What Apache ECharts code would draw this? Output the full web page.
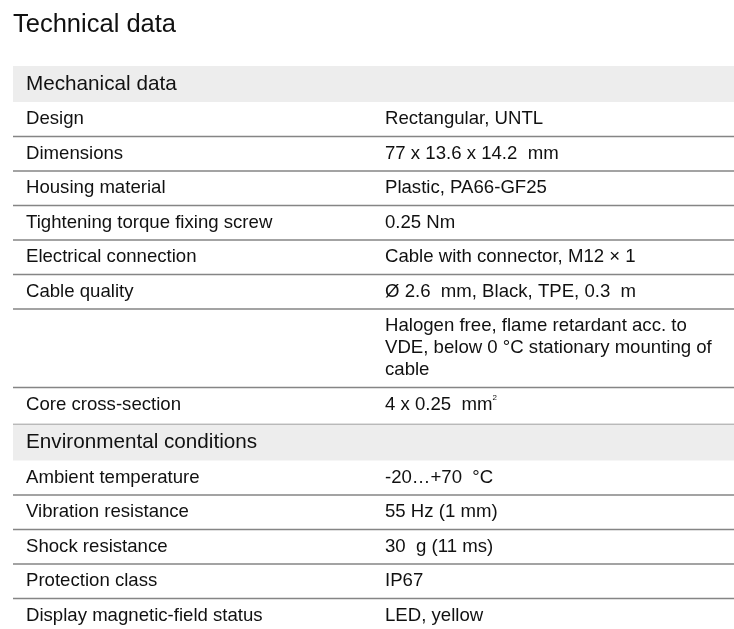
<!DOCTYPE html>
<html><head><meta charset="utf-8">
<script src="https://cdn.jsdelivr.net/npm/echarts@6/dist/echarts.min.js"></script>
<style>html,body{margin:0;padding:0;background:#fff}#c{width:734px;height:629px}</style>
</head><body><div id="c"></div>
<script>
var title = 'Technical data';
var sectionTitles = ['Mechanical data', 'Environmental conditions'];
var mechLabels = ['Design', 'Dimensions', 'Housing material', 'Tightening torque fixing screw',
  'Electrical connection', 'Cable quality', '', 'Core cross-section'];
var mechValues = ['Rectangular, UNTL', '77 x 13.6 x 14.2  mm', 'Plastic, PA66-GF25', '0.25 Nm',
  'Cable with connector, M12 × 1', 'Ø 2.6  mm, Black, TPE, 0.3  m',
  'Halogen free, flame retardant acc. to\nVDE, below 0 °C stationary mounting of\ncable',
  '4 x 0.25  mm{sup|2}'];
var envLabels = ['Ambient temperature', 'Vibration resistance', 'Shock resistance',
  'Protection class', 'Display magnetic-field status'];
var envValues = ['-20…+70  °C', '55 Hz (1 mm)', '30  g (11 ms)', 'IP67', 'LED, yellow'];

var FONT = '"Liberation Sans", Arial, sans-serif';
var LEFT = 13, RIGHT = 734, COL1 = 26, COL2 = 385;
var ROW_H = 34.5, LINE_H = 22, HEAD_H = 36;
var BODY = '18.6px ' + FONT;
var elements = [];
elements.push({type: 'text', x: LEFT, y: 25,
  style: {text: title, font: '25.5px ' + FONT, fill: '#111', verticalAlign: 'middle'}});

var y = 66;
function section(name, labels, values, first) {
  elements.push({type: 'rect', shape: {x: LEFT, y: y, width: RIGHT - LEFT, height: HEAD_H},
    style: {fill: '#ededed'}});
  elements.push({type: 'text', x: COL1, y: y + HEAD_H / 2,
    style: {text: name, font: '20.7px ' + FONT, fill: '#111', verticalAlign: 'middle'}});
  y += HEAD_H;
  for (var i = 0; i < labels.length; i++) {
    var v = values[i];
    var nLines = v.split('\n').length;
    var h = ROW_H + (nLines - 1) * LINE_H + (v.indexOf('{sup|') >= 0 ? 2.5 : 0);
    elements.push({type: 'text', x: COL1, y: y + 6,
      style: {text: labels[i], font: BODY, fill: '#111', verticalAlign: 'top', lineHeight: LINE_H}});
    elements.push({type: 'text', x: COL2, y: y + 6,
      style: {text: v, font: BODY, fill: '#111', verticalAlign: 'top', lineHeight: LINE_H,
        rich: {sup: {fontSize: 8, verticalAlign: 'top', lineHeight: 12, fill: '#111', fontFamily: FONT}}}});
    y += h;
    var isLast = i === labels.length - 1;
    if (!isLast || first) {
      elements.push({type: 'line', shape: {x1: LEFT, y1: y, x2: RIGHT, y2: y},
        style: {stroke: '#858585', lineWidth: 1.5}});
    }
  }
}
section(sectionTitles[0], mechLabels, mechValues, true);
section(sectionTitles[1], envLabels, envValues, false);

var chart = echarts.init(document.getElementById('c'));
chart.setOption({animation: false, graphic: {elements: elements}});
</script></body></html>
